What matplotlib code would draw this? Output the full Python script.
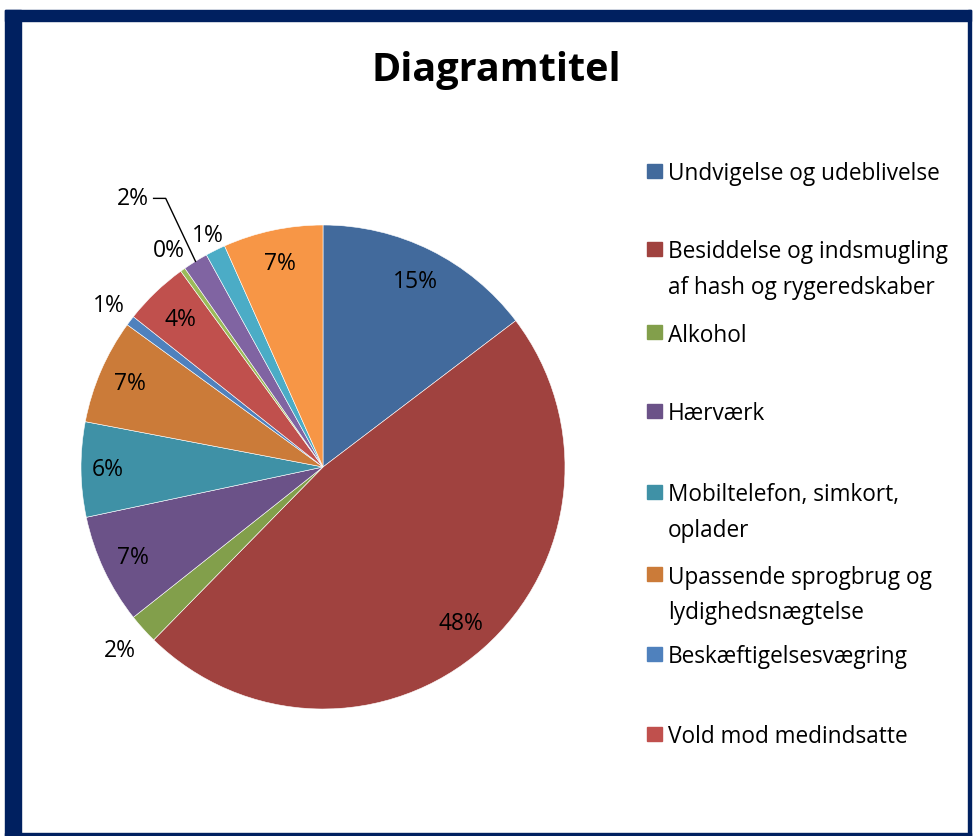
import matplotlib.pyplot as plt
import numpy as np
from matplotlib.patches import Rectangle

plt.rcParams['font.family'] = ['Open Sans', 'DejaVu Sans']

# counts per category (12 slices, only the first 8 fit in the legend)
values = [44, 143, 6, 22, 19, 21, 2, 13, 1, 5, 4, 20]
pct_labels = ["15%", "48%", "2%", "7%", "6%", "7%", "1%", "4%", "0%", "2%", "1%", "7%"]
legend_names = [
    "Undvigelse og udeblivelse",
    "Besiddelse og indsmugling\naf hash og rygeredskaber",
    "Alkohol",
    "Hærværk",
    "Mobiltelefon, simkort,\noplader",
    "Upassende sprogbrug og\nlydighedsnægtelse",
    "Beskæftigelsesvægring",
    "Vold mod medindsatte",
]
colors = ["#426A9C", "#A0423F", "#829F4B", "#6B5288", "#3F91A6", "#CB7B39",
          "#4F81BD", "#C0504D", "#9BBB59", "#8064A2", "#4BACC6", "#F79646"]

# label distance from centre (Excel best fit: inside or just outside)
label_r = [0.86, 0.86, 1.13, 0.87, 0.89, 0.87, 1.11, 0.85, 1.10, 1.0, 1.07, 0.86]

W, H = 973, 837
fig = plt.figure(figsize=(W / 100, H / 100), dpi=100)

# navy frame
navy = "#002060"
fig.patches.append(Rectangle((5 / W, 0), 16 / W, (837 - 11) / H, transform=fig.transFigure, color=navy))
fig.patches.append(Rectangle((5 / W, (837 - 22) / H), (971 - 5) / W, 11 / H, transform=fig.transFigure, color=navy))
fig.patches.append(Rectangle((968 / W, 0), 3 / W, (837 - 11) / H, transform=fig.transFigure, color=navy))
fig.patches.append(Rectangle((5 / W, 0), (971 - 5) / W, 3 / H, transform=fig.transFigure, color=navy))

# pie axes: centre (323, 468), radius 242 px
cx, cy, r = 323, 468, 242
ax = fig.add_axes([(cx - r) / W, (H - cy - r) / H, 2 * r / W, 2 * r / H])
wedges, _ = ax.pie(values, colors=colors, startangle=90, counterclock=False,
                   wedgeprops=dict(edgecolor="white", linewidth=0.4))
ax.set_xlim(-1, 1)
ax.set_ylim(-1, 1)
ax.set_aspect("equal")
ax.axis("off")

for i, w in enumerate(wedges):
    theta = np.deg2rad((w.theta1 + w.theta2) / 2)
    x, y = np.cos(theta), np.sin(theta)
    if i == 9:
        # small purple slice: label pulled out with a leader line
        tx, ty = -0.72, 1.11
        ax.text(tx, ty, pct_labels[i], ha="right", va="center", fontsize=16.5)
        ax.plot([tx + 0.02, tx + 0.07, x * 1.0], [ty, ty, y * 1.0],
                color="black", lw=1, clip_on=False)
        continue
    ax.text(x * label_r[i], y * label_r[i], pct_labels[i], ha="center",
            va="center", fontsize=16.5, color="black")

fig.text(496 / W, 1 - 70 / H, "Diagramtitel", ha="center", va="center",
         fontsize=28.5, fontweight="bold")

# legend, evenly spaced slots like Excel
legend_y = [172, 250, 333, 412, 493, 575, 655, 735]
for name, col, y in zip(legend_names, colors, legend_y):
    fig.patches.append(Rectangle((647 / W, 1 - (y + 7) / H), 15 / W, 14 / H,
                                 transform=fig.transFigure, color=col))
    fig.text(668 / W, 1 - (y - 9.5) / H, name, ha="left", va="top",
             fontsize=16.3, linespacing=1.65)

fig.savefig("out.png", dpi=100)
